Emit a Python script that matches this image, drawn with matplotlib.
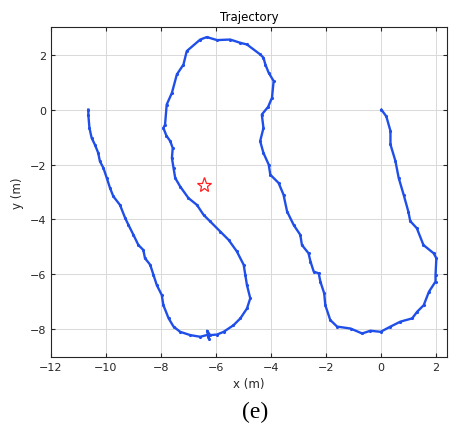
import numpy as np
import matplotlib.pyplot as plt

# trajectory points (m)
traj_x = [0.02, 0.2, 0.35, 0.35, 0.53, 0.65, 0.83, 1.0, 1.07, 1.31, 1.55, 1.92, 2.02, 1.99,
          1.99, 1.75, 1.56, 1.32, 1.14, 0.71, 0.35, -0.01, -0.38, -0.68, -1.1, -1.59, -1.84,
          -2.02, -2.06, -2.2, -2.26, -2.44, -2.56, -2.63, -2.87, -2.93, -3.17, -3.41, -3.54,
          -3.72, -4.02, -4.08, -4.27, -4.39, -4.27, -4.33, -4.1, -3.96, -3.9, -4.08, -4.2,
          -4.27, -4.39, -4.87, -5.11, -5.48, -5.96, -6.33, -6.57, -7.06, -7.18, -7.42, -7.6,
          -7.79, -7.85, -7.91, -7.8, -7.66, -7.57, -7.6, -7.54, -7.48, -7.3, -7.0, -6.69,
          -6.45, -6.21, -5.84, -5.54, -5.24, -4.99, -4.93, -4.87, -4.75, -4.87, -5.11, -5.36,
          -5.72, -5.96, -6.21, -6.32, -6.25, -6.3, -6.57, -6.93, -7.3, -7.54, -7.72, -7.91,
          -7.97, -8.15, -8.27, -8.39, -8.58, -8.64, -8.82, -9.0, -9.18, -9.3, -9.49, -9.73,
          -9.85, -9.97, -10.09, -10.22, -10.28, -10.4, -10.52, -10.6, -10.64, -10.64]
traj_y = [0.0, -0.25, -0.78, -1.27, -1.87, -2.49, -3.1, -3.71, -4.06, -4.32, -4.93, -5.23, -5.41, -6.02,
          -6.26, -6.63, -7.12, -7.36, -7.6, -7.72, -7.9, -8.09, -8.05, -8.15, -7.97, -7.9, -7.66,
          -7.12, -6.69, -6.26, -5.96, -5.9, -5.53, -5.23, -4.93, -4.56, -4.2, -3.71, -3.1,
          -2.67, -2.37, -2.0, -1.58, -1.15, -0.67, -0.18, 0.1, 0.43, 1.04, 1.34, 1.64,
          1.89, 2.01, 2.37, 2.43, 2.55, 2.53, 2.64, 2.55, 2.13, 1.64, 1.28, 0.61,
          0.18, -0.55, -0.67, -0.95, -1.15, -1.4, -1.76, -2.13, -2.49, -2.8, -3.22, -3.47,
          -3.83, -4.07, -4.44, -4.74, -5.16, -5.65, -6.02, -6.39, -6.87, -7.24, -7.6, -7.85,
          -8.09, -8.19, -8.21, -8.05, -8.35, -8.2, -8.27, -8.21, -8.09, -7.9, -7.6, -7.12,
          -6.75, -6.39, -6.02, -5.65, -5.41, -5.11, -4.93, -4.56, -4.2, -3.95, -3.47, -3.16,
          -2.86, -2.49, -2.13, -1.88, -1.58, -1.28, -1.03, -0.67, -0.2, 0.0]

star_x = [-6.45]
star_y = [-2.74]

fig = plt.figure(figsize=(4.55, 4.27), dpi=100)
ax = fig.add_axes([0.112, 0.162, 0.87, 0.772])

ax.plot(traj_x, traj_y, color='#1f4fe8', lw=1.7, marker='.', ms=2.5)
ax.plot(star_x, star_y, marker='*', ms=11, mfc='none', mec='#ff2020', mew=0.9, ls='none')

ax.set_xlim(-12, 2.4)
ax.set_ylim(-9, 3)
ax.set_xticks(np.arange(-12, 3, 2))
ax.set_yticks(np.arange(-8, 3, 2))
ax.grid(True, color='#d9d9d9', lw=0.7)
ax.set_axisbelow(True)
ax.tick_params(direction='in', top=True, right=True, labelsize=8, colors='#262626', length=3)
for s in ax.spines.values():
    s.set_color('#262626')
    s.set_linewidth(0.8)

ax.set_title('Trajectory', fontsize=8.5, pad=5)
ax.set_xlabel('x (m)', fontsize=8.5, color='#262626', labelpad=4)
ax.set_ylabel('y (m)', fontsize=8.5, color='#262626', labelpad=4)

fig.text(0.56, 0.02, '(e)', fontsize=17, family='Liberation Serif', ha='center')

fig.savefig('out.png', dpi=100)
